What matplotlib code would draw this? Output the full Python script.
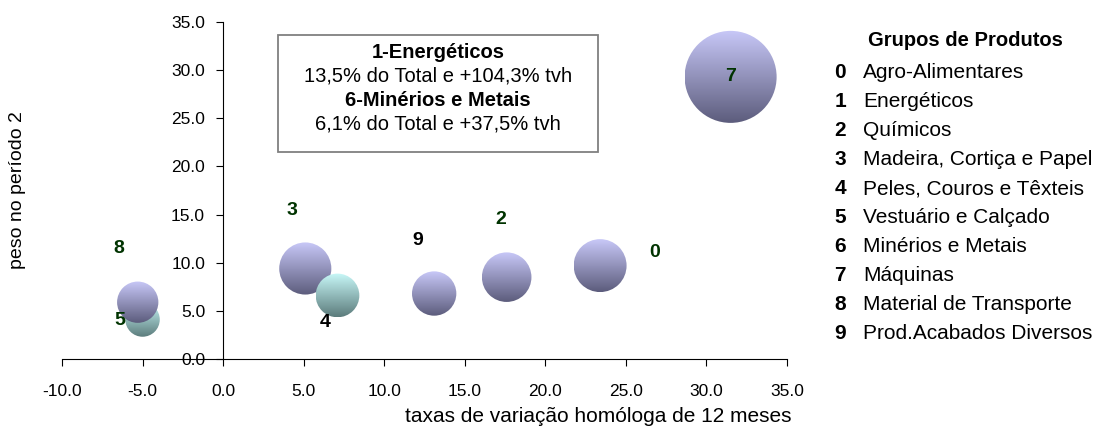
import numpy as np
import matplotlib
matplotlib.use("Agg")
from matplotlib import pyplot as plt
from matplotlib import transforms
from matplotlib.colors import LinearSegmentedColormap
from matplotlib.patches import Circle

plt.rcParams['font.family'] = ['Liberation Sans', 'DejaVu Sans']

# grupos visiveis no grafico (1 e 6 ficam fora da escala, vao na caixa)
grupos = ['0', '2', '3', '4', '5', '7', '8', '9']
tvh = [23.4, 17.6, 5.1, 7.1, -5.0, 31.5, -5.3, 13.1]       # taxa de variacao homologa
peso = [9.7, 8.5, 9.4, 6.6, 4.1, 29.3, 5.9, 6.8]           # peso no periodo 2
tamanho = [9.7, 8.5, 9.4, 6.6, 4.1, 29.3, 5.9, 6.8]        # tamanho da bolha

nomes_legenda = ['Agro-Alimentares', 'Energéticos', 'Químicos',
                 'Madeira, Cortiça e Papel', 'Peles, Couros e Têxteis',
                 'Vestuário e Calçado', 'Minérios e Metais', 'Máquinas',
                 'Material de Transporte', 'Prod.Acabados Diversos']

# estilo de cada bolha / rotulo
teal = ['4', '5']
rotulo_preto = ['4', '9']
# deslocamento do rotulo (px) relativo ao centro da bolha
desloc = {'0': (55, 13), '2': (-6, 58), '3': (-13, 58), '4': (-12, -27),
          '5': (-23, -1), '7': (0, 0), '8': (-19, 54), '9': (-16, 53)}

W, H = 1096, 430
fig = plt.figure(figsize=(W / 100, H / 100), dpi=100)
ax = fig.add_axes([62 / W, (H - 359) / H, (787 - 62) / W, (359 - 22) / H])
ax.set_xlim(-10, 35)
ax.set_ylim(0, 35)

ax.spines['left'].set_position(('data', 0))
ax.spines['bottom'].set_position(('data', 0))
ax.spines['right'].set_visible(False)
ax.spines['top'].set_visible(False)
for s in ['left', 'bottom']:
    ax.spines[s].set_linewidth(0.8)
ax.set_xticks(np.arange(-10, 36, 5))
ax.set_yticks(np.arange(0, 36, 5))
ax.xaxis.set_major_formatter(matplotlib.ticker.FormatStrFormatter('%.1f'))
ax.yaxis.set_major_formatter(matplotlib.ticker.FormatStrFormatter('%.1f'))
ax.tick_params(axis='x', direction='out', length=5, width=0.8, pad=13, labelsize=12.5)
ax.tick_params(axis='y', direction='out', length=5, width=0.8, pad=8, labelsize=12.5)

cm_roxo = LinearSegmentedColormap.from_list('roxo', ['#5c5c7c', '#c8c8f8'])
cm_teal = LinearSegmentedColormap.from_list('teal', ['#5c7c7c', '#c8f8f8'])
grad = np.linspace(0, 1, 256).reshape(-1, 1)

k = 8.5  # px por raiz do tamanho
inv = ax.transData.inverted()
for g, x, y, t in zip(grupos, tvh, peso, tamanho):
    r = k * np.sqrt(t)
    cx, cy = ax.transData.transform((x, y))
    x0, y0 = inv.transform((cx - r, cy - r))
    x1, y1 = inv.transform((cx + r, cy + r))
    cmap = cm_teal if g in teal else cm_roxo
    im = ax.imshow(grad, cmap=cmap, extent=[x0, x1, y0, y1], origin='lower',
                   aspect='auto', interpolation='bilinear', zorder=2)
    trans = fig.dpi_scale_trans + transforms.ScaledTranslation(x, y, ax.transData)
    circ = Circle((0, 0), r / 100, transform=trans, facecolor='none', edgecolor='none')
    ax.add_patch(circ)
    im.set_clip_path(circ)
    dx, dy = desloc[g]
    cor = 'black' if g in rotulo_preto else '#003300'
    ax.annotate(g, (x, y), xytext=(dx * 0.72, dy * 0.72), textcoords='offset points',
                ha='center', va='center', fontsize=14, fontweight='bold', color=cor,
                zorder=5, annotation_clip=False)

ax.set_xlim(-10, 35)
ax.set_ylim(0, 35)

fig.text(598 / W, (H - 417) / H, 'taxas de variação homóloga de 12 meses',
         ha='center', va='center', fontsize=15)
fig.text(18 / W, (H - 190) / H, 'peso no período 2', rotation=90,
         ha='center', va='center', fontsize=14)

# caixa de texto
ax.add_patch(plt.Rectangle((278 / W, (H - 152) / H), 320 / W, 117 / H,
                           transform=fig.transFigure, facecolor='white',
                           edgecolor='#808080', linewidth=1.3, zorder=6))
linhas = [('1-Energéticos', 'bold'), ('13,5% do Total e +104,3% tvh', 'normal'),
          ('6-Minérios e Metais', 'bold'), ('6,1% do Total e +37,5% tvh', 'normal')]
for i, (txt, peso_fonte) in enumerate(linhas):
    fig.text(438 / W, (H - 52 - 24 * i) / H, txt, ha='center', va='center',
             fontsize=14.5, fontweight=peso_fonte, zorder=7)

# legenda
fig.text(868 / W, (H - 40) / H, 'Grupos de Produtos', ha='left', va='center',
         fontsize=14.5, fontweight='bold')
for i, nome in enumerate(nomes_legenda):
    yy = (H - 73 - 28.9 * i) / H
    fig.text(840 / W, yy, str(i), ha='center', va='center', fontsize=15, fontweight='bold')
    fig.text(863 / W, yy, nome, ha='left', va='center', fontsize=15)

fig.savefig('out.png', dpi=100)
